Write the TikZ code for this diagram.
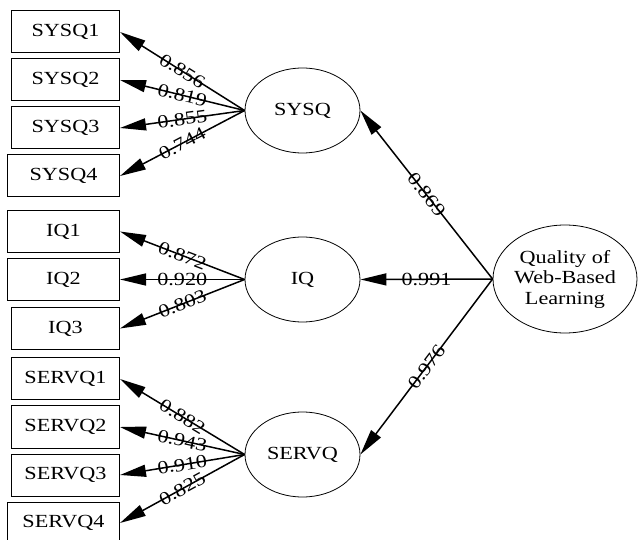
\documentclass[tikz,border=0pt]{standalone}
\usepackage{fontspec}
\setmainfont{Liberation Serif}[FakeStretch=1.2]
\usetikzlibrary{arrows.meta,shapes,positioning}

\begin{document}
\begin{tikzpicture}[x=1pt,y=-1pt,>={Triangle[length=26pt,width=12pt]},
  every node/.style={font=\fontsize{18.5}{20.5}\selectfont},
  obs/.style={draw,line width=1pt,minimum width=108pt,minimum height=42pt,inner sep=0pt,anchor=east},
  wide/.style={minimum width=112pt},
  latent/.style={draw,ellipse,line width=0.8pt,inner sep=0pt,minimum width=115pt,minimum height=85pt},
  path/.style={->,line width=1.5pt},
  load/.style={midway,sloped,inner sep=0pt}]
  \useasboundingbox (0,0) rectangle (638,540);
  % latent constructs
  \node[latent] (sysq) at (302.5,110.5) {SYSQ};
  \node[latent] (iq) at (302.5,279.5) {IQ};
  \node[latent] (servq) at (302.5,454.5) {SERVQ};
  \node[latent,minimum width=144pt,minimum height=108pt,align=center] (wbl) at (565,279) {Quality of\\Web-Based\\Learning};
  % indicators
  \node[obs] (sysq1) at (120,32) {SYSQ1};
  \node[obs] (sysq2) at (120,80) {SYSQ2};
  \node[obs] (sysq3) at (120,128) {SYSQ3};
  \node[obs,wide] (sysq4) at (120,176) {SYSQ4};
  \node[obs,wide] (iq1) at (120,231.5) {IQ1};
  \node[obs,wide] (iq2) at (120,279.5) {IQ2};
  \node[obs] (iq3) at (120,328.5) {IQ3};
  \node[obs] (servq1) at (120,379) {SERVQ1};
  \node[obs] (servq2) at (120,427) {SERVQ2};
  \node[obs] (servq3) at (120,475) {SERVQ3};
  \node[obs,wide] (servq4) at (120,523) {SERVQ4};
  % loadings
  \draw[path] (sysq.west) -- node[load] {0.856} (sysq1.east);
  \draw[path] (sysq.west) -- node[load] {0.819} (sysq2.east);
  \draw[path] (sysq.west) -- node[load] {0.855} (sysq3.east);
  \draw[path] (sysq.west) -- node[load] {0.744} (sysq4.east);
  \draw[path] (iq.west) -- node[load] {0.872} (iq1.east);
  \draw[path] (iq.west) -- node[load] {0.920} (iq2.east);
  \draw[path] (iq.west) -- node[load] {0.803} (iq3.east);
  \draw[path] (servq.west) -- node[load] {0.882} (servq1.east);
  \draw[path] (servq.west) -- node[load] {0.943} (servq2.east);
  \draw[path] (servq.west) -- node[load] {0.910} (servq3.east);
  \draw[path] (servq.west) -- node[load] {0.825} (servq4.east);
  \draw[path] (wbl.west) -- node[load] {0.869} (sysq.east);
  \draw[path] (wbl.west) -- node[load] {0.991} (iq.east);
  \draw[path] (wbl.west) -- node[load] {0.976} (servq.east);
\end{tikzpicture}
\end{document}
